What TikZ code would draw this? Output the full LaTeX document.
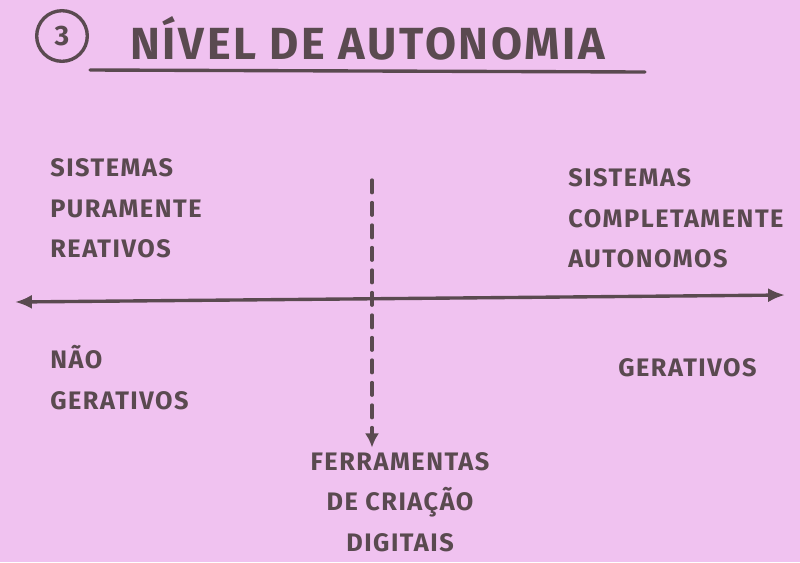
\documentclass[tikz,border=0pt]{standalone}
\usepackage{fontspec}
\usetikzlibrary{arrows.meta}
\setmainfont{Fira Sans}[LetterSpace=6]
\definecolor{paper}{HTML}{F0C2F0}
\definecolor{ink}{HTML}{5A4A50}
\begin{document}
\begin{tikzpicture}[x=0.025cm,y=-0.025cm,
  lbl/.style={text=ink,font=\fontsize{18}{29}\selectfont\bfseries,inner sep=0pt},
  pen/.style={draw=ink,line width=2.4pt,line cap=round}]
\fill[paper] (0,0) rectangle (800,562);
\useasboundingbox (0,0) rectangle (800,562);
\node[pen,circle,minimum size=36pt,inner sep=0pt,text=ink,font=\fontsize{20}{24}\selectfont\bfseries] (num) at (62,36) {3};
\node[lbl,font=\fontsize{32}{40}\selectfont\bfseries,anchor=west] (title) at (130,38) {NÍVEL DE AUTONOMIA};
\coordinate (ul1) at (90,70); \coordinate (ul2) at (645,72);
\draw[pen] (ul1) -- (ul2);
\node[lbl,anchor=north west,align=left] (left) at (50,158) {SISTEMAS\\PURAMENTE\\REATIVOS};
\node[lbl,anchor=north west,align=left] (right) at (568,168) {SISTEMAS\\COMPLETAMENTE\\AUTONOMOS};
\coordinate (al) at (15,302); \coordinate (ar) at (785,295);
\draw[pen,{Latex[length=12pt,width=10pt]}-{Latex[length=12pt,width=10pt]}] (al) -- (ar);
\node[lbl,anchor=north west,align=left] (nao) at (50,345) {NÃO\\GERATIVOS};
\node[lbl,anchor=west] (ger) at (618,368) {GERATIVOS};
\node[lbl,align=center] (ferr) at (400,502) {FERRAMENTAS\\DE CRIAÇÃO\\DIGITAIS};
\coordinate (dt) at (372,180);
\draw[pen,dash pattern=on 9pt off 7pt,-{Latex[length=10pt,width=10pt]}] (dt) -- ([yshift=3pt]ferr.north -| dt);
\end{tikzpicture}
\end{document}
